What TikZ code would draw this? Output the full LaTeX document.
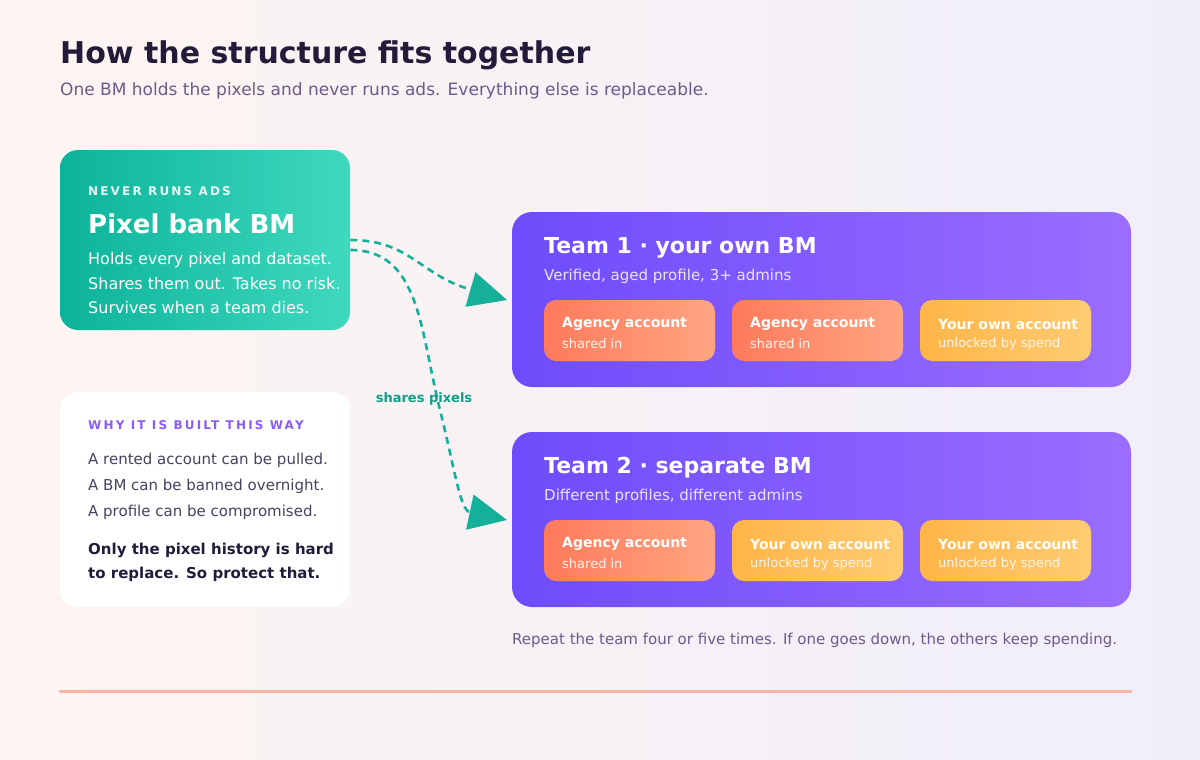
\documentclass[tikz,border=0pt]{standalone}
\usepackage{fontspec}
\setmainfont{DejaVu Sans}
\newfontfamily\spaced[LetterSpace=18]{DejaVu Sans}
\usetikzlibrary{arrows.meta}
\definecolor{ink}{HTML}{231B3A}
\definecolor{muted}{HTML}{6B5B8A}
\definecolor{teal}{HTML}{14B09A}
\definecolor{tealdk}{HTML}{0E9E86}
\definecolor{purp}{HTML}{8B5CF6}
\definecolor{body}{HTML}{4A4060}
\definecolor{pbA}{HTML}{0BB39A}\definecolor{pbB}{HTML}{3FD9BE}
\definecolor{lineC}{HTML}{FBB3A6}
\begin{document}
\begin{tikzpicture}[x=1pt,y=-1pt,
  txt/.style={anchor=west,inner sep=0pt},
  fs/.style={font=\fontsize{#1}{#1}\selectfont},
  agency/.style={rounded corners=12pt,shading angle=60,left color=cOrA,right color=cOrB},
  own/.style={rounded corners=12pt,shading angle=60,left color=cYeA,right color=cYeB},
  flow/.style={draw=teal,line width=2.6pt,dash pattern=on 7pt off 5pt,-{Triangle[length=38pt,width=36pt,fill=teal,line width=0pt]}}]
\definecolor{cOrA}{HTML}{FF7A5C}\definecolor{cOrB}{HTML}{FFA582}
\definecolor{cYeA}{HTML}{FFB547}\definecolor{cYeB}{HTML}{FFCC72}
\definecolor{bgA}{HTML}{FDF5F1}\definecolor{bgB}{HTML}{F1EEFB}
\useasboundingbox (0,0) rectangle (1200,760);
\shade[shading angle=60,left color=bgA,right color=bgB] (0,0) rectangle (1200,760);
\node[txt,text=ink,font=\bfseries\fontsize{30}{30}\selectfont] (title) at (60,55) {How the structure fits together};
\node[txt,fs=17,text=muted] (sub) at (60,91) {One BM holds the pixels and never runs ads. Everything else is replaceable.};
% pixel bank
\shade[rounded corners=18pt,shading angle=60,left color=pbA,right color=pbB] (60,150) rectangle (350,330);
\node[draw=none,minimum width=290pt,minimum height=180pt,anchor=north west] (pb) at (60,150) {};
\node[txt,text=white!90!teal,font=\spaced\bfseries\fontsize{12}{12}\selectfont] at (88,191) {NEVER RUNS ADS};
\node[txt,text=white,font=\bfseries\fontsize{26}{26}\selectfont] at (88,224) {Pixel bank BM};
\node[txt,text=white,fs=16] at (88,260) {Holds every pixel and dataset.};
\node[txt,text=white,fs=16] at (88,284) {Shares them out. Takes no risk.};
\node[txt,text=white,fs=16] at (88,308) {Survives when a team dies.};
% why box
\fill[white,rounded corners=18pt] (60,392) rectangle (350,607);
\node[txt,text=purp,font=\spaced\bfseries\fontsize{12}{12}\selectfont] at (88,425) {WHY IT IS BUILT THIS WAY};
\node[txt,text=body,fs=15] at (88,460) {A rented account can be pulled.};
\node[txt,text=body,fs=15] at (88,486) {A BM can be banned overnight.};
\node[txt,text=body,fs=15] at (88,512) {A profile can be compromised.};
\node[txt,text=ink,font=\bfseries\fontsize{15}{15}\selectfont] at (88,550) {Only the pixel history is hard};
\node[txt,text=ink,font=\bfseries\fontsize{15}{15}\selectfont] at (88,574) {to replace. So protect that.};
% teams
\definecolor{tA}{HTML}{6E4CFB}\definecolor{tB}{HTML}{9B6DFF}
\foreach \y/\t/\s in {212/Team 1 · your own BM/{Verified, aged profile, 3+ admins},432/Team 2 · separate BM/{Different profiles, different admins}}{
  \shade[rounded corners=20pt,shading angle=60,left color=tA,right color=tB] (512,\y) rectangle (1131,\y+175);
  \node[txt,text=white,font=\bfseries\fontsize{22}{22}\selectfont] at (544,\y+36) {\t};
  \node[txt,text=white!85!tA,fs=15] at (544,\y+64) {\s};
}
\node[minimum width=619pt,minimum height=175pt,anchor=north west,inner sep=0pt] (t1) at (512,212) {};
\node[minimum width=619pt,minimum height=175pt,anchor=north west,inner sep=0pt] (t2) at (512,432) {};
\foreach \x/\y/\st/\a/\b in {544/300/agency/Agency account/shared in,732/300/agency/Agency account/shared in,920/300/own/Your own account/unlocked by spend,544/520/agency/Agency account/shared in,732/520/own/Your own account/unlocked by spend,920/520/own/Your own account/unlocked by spend}{
  \shade[\st] (\x,\y) rectangle (\x+171,\y+61);
  \node[txt,text=white,font=\bfseries\fontsize{14}{14}\selectfont] at (\x+18,\y+24) {\a};
  \node[txt,text=white!92!orange,fs=13] at (\x+18,\y+44) {\b};
}
% arrows
\coordinate (e1) at (507,300);
\coordinate (e2) at (507,520);
\draw[flow] (pb.north east |- 0,240) .. controls (410,240) and (420,275) .. (e1);
\draw[flow] (pb.north east |- 0,250) .. controls (420,250) and (420,330) .. (440,410) .. controls (455,470) and (460,510) .. (e2);
\node[text=tealdk,font=\bfseries\fontsize{13}{13}\selectfont,inner sep=0pt] (lbl) at (424,399) {shares pixels};
\node[txt,text=muted,fs=15] (foot) at (512,640) {Repeat the team four or five times. If one goes down, the others keep spending.};
\coordinate (l1) at (60,691); \coordinate (l2) at (1131,691);
\draw[line width=3pt,color=lineC,line cap=round] (l1) -- (l2);
\end{tikzpicture}
\end{document}
